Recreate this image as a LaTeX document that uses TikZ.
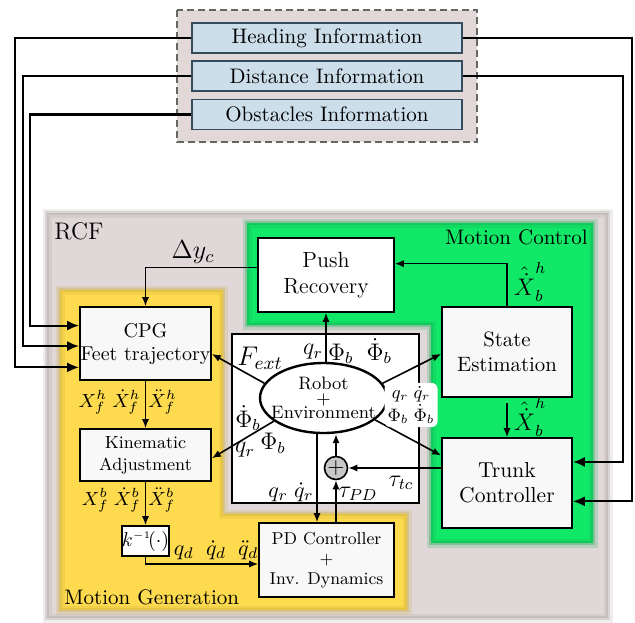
\RequirePackage{fix-cm}
\documentclass[tikz,border=0pt]{standalone}
\usetikzlibrary{arrows.meta,calc,shapes.geometric}

\definecolor{rcfbg}{RGB}{224,216,216}
\definecolor{rcfedge}{RGB}{165,155,155}
\definecolor{genyellow}{RGB}{253,218,78}
\definecolor{yedge}{RGB}{200,168,55}
\definecolor{ctrlgreen}{RGB}{18,232,104}
\definecolor{gedge}{RGB}{15,165,75}
\definecolor{infofill}{RGB}{205,222,235}
\definecolor{infoedge}{RGB}{55,75,95}
\definecolor{infobg}{RGB}{226,216,216}
\definecolor{boxfill}{RGB}{248,248,248}
\definecolor{sumfill}{RGB}{200,200,200}

\begin{document}
\begin{tikzpicture}[x=0.5pt,y=-0.5pt,
  block/.style={draw=black,line width=0.8pt,fill=boxfill,align=center,inner sep=0pt},
  infobox/.style={draw=infoedge,line width=0.8pt,fill=infofill,minimum width=135pt,
    minimum height=15pt,inner sep=0pt,font=\fontsize{10.5}{12}\selectfont},
  conn/.style={line width=0.8pt,-{Latex[length=4.5pt,width=3.6pt]}},
  infoconn/.style={line width=1.1pt,-{Latex[length=6pt,width=5pt]}},
  lbl/.style={inner sep=0pt},
  softA/.style={draw=#1,line width=4.5pt,draw opacity=0.18},
  softB/.style={draw=#1,line width=2pt,draw opacity=0.3},
]
\useasboundingbox (0,0) rectangle (635,622);

% --- outer RCF frame ---
\fill[rcfbg] (47,213) rectangle (608,618);
\draw[softA=rcfedge] (47,213) rectangle (608,618);
\draw[softB=rcfedge] (47,213) rectangle (608,618);

% --- motion generation area ---
\fill[genyellow] (60,290) -- (223,290) -- (223,514) -- (407,514) -- (407,610) -- (60,610) -- cycle;
\draw[softA=yedge] (60,290) -- (223,290) -- (223,514) -- (407,514) -- (407,610) -- (60,610) -- cycle;
\draw[softB=yedge] (60,290) -- (223,290) -- (223,514) -- (407,514) -- (407,610) -- (60,610) -- cycle;

% --- motion control area ---
\fill[ctrlgreen] (247,223) -- (593,223) -- (593,543) -- (431,543) -- (431,325) -- (247,325) -- cycle;
\draw[softA=gedge] (247,223) -- (593,223) -- (593,543) -- (431,543) -- (431,325) -- (247,325) -- cycle;
\draw[softB=gedge] (247,223) -- (593,223) -- (593,543) -- (431,543) -- (431,325) -- (247,325) -- cycle;

% --- information sources ---
\draw[fill=infobg,draw=black!60,line width=0.8pt,dash pattern=on 3.5pt off 2pt] (177,10) rectangle (477,142);
\node[infobox] (heading) at (327,38) {Heading Information};
\node[infobox] (distance) at (327,76) {Distance Information};
\node[infobox] (obstacles) at (327,114.5) {Obstacles Information};

% --- blocks ---
\node[block,minimum width=65.5pt,minimum height=36.5pt,font=\fontsize{10}{11.5}\selectfont]
  (cpg) at (145.5,343.5) {CPG\\Feet trajectory};
\node[block,minimum width=65.5pt,minimum height=26pt,font=\fontsize{8.8}{11}\selectfont]
  (kin) at (145.5,455) {Kinematic\\Adjustment};
\node[block,fill=white,minimum width=22.5pt,minimum height=15pt,font=\fontsize{10}{12}\selectfont]
  (kinv) at (145.5,541) {$k^{\scriptscriptstyle -1}\!(\cdot)$};
\node[block,minimum width=67.5pt,minimum height=37pt,font=\fontsize{8.6}{10}\selectfont]
  (pd) at (326.5,560) {PD Controller\\+\\Inv. Dynamics};
\node[block,fill=white,minimum width=68pt,minimum height=37pt,font=\fontsize{11}{13}\selectfont]
  (push) at (326,275) {Push\\Recovery};
\node[block,minimum width=65pt,minimum height=45pt,font=\fontsize{10.4}{12.5}\selectfont]
  (state) at (507,352) {State\\Estimation};
\node[block,minimum width=65pt,minimum height=45pt,font=\fontsize{10.8}{12.5}\selectfont]
  (trunk) at (507,483) {Trunk\\Controller};

% --- plant ---
\node[draw=black,line width=0.8pt,fill=white,minimum width=93.5pt,minimum height=84.5pt,inner sep=0pt]
  (plant) at (325.5,418.5) {};
\node[ellipse,draw=black,line width=1.2pt,fill=white,minimum width=63.5pt,minimum height=35pt,
  inner xsep=-6pt,inner ysep=-4pt,align=center,font=\fontsize{9}{7.4}\selectfont]
  (ell) at (323.5,398) {Robot\\+\\Environment};
\node[circle,draw=black,line width=0.8pt,fill=sumfill,minimum size=11.5pt,inner sep=0pt,
  font=\fontsize{11}{11}\selectfont] (sum) at (336,468) {$+$};

% --- connection points ---
\coordinate (xH) at (15,0);
\coordinate (xD) at (23,0);
\coordinate (xO) at (30,0);
\coordinate (xHr) at (632,0);
\coordinate (xDr) at (623,0);
\coordinate (cpgH) at ($(cpg.north west)!0.82!(cpg.south west)$);
\coordinate (cpgD) at ($(cpg.north west)!0.534!(cpg.south west)$);
\coordinate (cpgO) at ($(cpg.north west)!0.26!(cpg.south west)$);
\coordinate (trH) at ($(trunk.north east)!0.7!(trunk.south east)$);
\coordinate (trD) at ($(trunk.north east)!0.27!(trunk.south east)$);
\coordinate (pushW) at ($(push.north west)!0.4!(push.south west)$);
\coordinate (pushE) at ($(push.north east)!0.35!(push.south east)$);
\coordinate (cpgE) at ($(cpg.north east)!0.64!(cpg.south east)$);
\coordinate (kinE) at ($(kin.north east)!0.56!(kin.south east)$);
\coordinate (stateW) at ($(state.north west)!0.52!(state.south west)$);
\coordinate (trW) at ($(trunk.north west)!0.2!(trunk.south west)$);
\coordinate (pdIn) at ($(pd.north)+(-9.5,0)$);
\coordinate (pdK) at ($(pd.west)+(0,4)$);

% --- information lines ---
\draw[infoconn] (heading.west) -| (xH |- cpgH) -- (cpgH);
\draw[infoconn] (distance.west) -| (xD |- cpgD) -- (cpgD);
\draw[infoconn] (obstacles.west) -| (xO |- cpgO) -- (cpgO);
\draw[infoconn] (heading.east) -| (xHr |- trH) -- (trH);
\draw[infoconn] (distance.east) -| (xDr |- trD) -- (trD);

% --- signal flow ---
\draw[conn] (pushW) -| (cpg.north);
\draw[conn] (state.north) |- (pushE);
\draw[conn] ([yshift=-2.5pt]state.south) -- (trunk.north);
\draw[conn] (push.south |- ell.north) -- (push.south);
\draw[conn] (ell.166) -- (cpgE);
\draw[conn] (ell.205) -- (kinE);
\draw[conn] (ell.14) -- (stateW);
\draw[conn] (ell.337) -- (trW);
\draw[conn] (pdIn |- ell.south) -- (pdIn);
\draw[conn] (sum.south |- pd.north) -- (sum.south);
\draw[conn] (sum.north) -- (sum.north |- ell.south);
\draw[conn] (sum.east -| trunk.west) -- (sum.east);
\draw[conn] (cpg.south) -- (kin.north);
\draw[conn] (kin.south) -- (kinv.north);
\draw[conn] (kinv.south) |- (pdK);

% --- labels ---
\node[lbl,anchor=west,font=\fontsize{12}{12}\selectfont] at (54,231) {RCF};
\node[lbl,anchor=east,font=\fontsize{10.5}{11}\selectfont] at (588,237) {Motion Control};
\node[lbl,anchor=west,font=\fontsize{10.5}{11}\selectfont] at (64,597) {Motion Generation};

\node[lbl,font=\fontsize{13}{13}\selectfont] at (193,252) {$\Delta y_c$};
\node[lbl,font=\fontsize{12}{12}\selectfont] at (530,282) {$\hat{\dot{X}}_b^h$};
\node[lbl,font=\fontsize{12}{12}\selectfont] at (530,417) {$\hat{\dot{X}}_b^h$};

\node[lbl,font=\fontsize{13.5}{13.5}\selectfont] at (260,358) {$F_{ext}$};
\node[lbl,font=\fontsize{12}{12}\selectfont] at (313,352) {$q_r$};
\node[lbl,font=\fontsize{12}{12}\selectfont] at (360,351) {$\Phi_b\;\;\dot\Phi_b$};
\node[fill=white,rounded corners=3pt,inner xsep=1.5pt,inner ysep=2pt,align=center,
  font=\fontsize{9}{9.5}\selectfont] at (411,405) {$q_r\;\dot q_r$\\$\Phi_b\;\dot\Phi_b$};
\node[lbl,font=\fontsize{12}{12}\selectfont] at (248,418) {$\dot\Phi_b$};
\node[lbl,font=\fontsize{12}{12}\selectfont] at (273,443) {$\Phi_b$};
\node[lbl,font=\fontsize{12}{12}\selectfont] at (245,450) {$q_r$};
\node[lbl,font=\fontsize{11}{11}\selectfont] at (291,492) {$q_r\;\dot q_r$};
\node[lbl,font=\fontsize{12}{12}\selectfont] at (358,494) {$\tau_{PD}$};
\node[lbl,font=\fontsize{12}{12}\selectfont] at (401,483) {$\tau_{tc}$};

\node[lbl,anchor=east,font=\fontsize{9.5}{10}\selectfont] at (141,402) {$X_f^h\;\dot X_f^h$};
\node[lbl,anchor=west,font=\fontsize{9.5}{10}\selectfont] at (148,402) {$\ddot X_f^h$};
\node[lbl,anchor=east,font=\fontsize{9.5}{10}\selectfont] at (141,500) {$X_f^b\;\dot X_f^b$};
\node[lbl,anchor=west,font=\fontsize{9.5}{10}\selectfont] at (148,500) {$\ddot X_f^b$};
\node[lbl,font=\fontsize{11}{11}\selectfont] at (216,550) {$q_d\;\;\dot q_d\;\;\ddot q_d$};
\end{tikzpicture}
\end{document}
